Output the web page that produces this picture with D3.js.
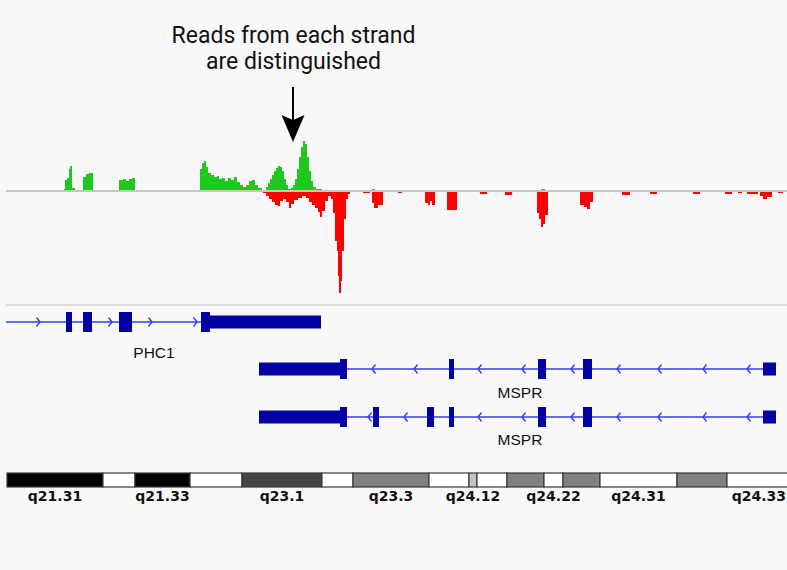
<!DOCTYPE html>
<html>
<head>
<meta charset="utf-8">
<script src="https://cdn.jsdelivr.net/npm/d3@7"></script>
<style>
  html, body { margin: 0; padding: 0; background: #f8f8f8; }
  svg { display: block; }
</style>
</head>
<body>
<script>
// ---------------- DATA ----------------
// Coverage positions (kb from view start) and read counts
const fwdPos = [42,58,59,61,63,64,66,69,77,80,83,87,113,117,120,123,126,129,
  194,196,198,200,202,205,208,211,213,216,219,222,225,228,231,234,237,240,243,246,249,252,256,
  260,262,264,266,268,270,272,274,276,278,280,282,285,287,289,291,293,295,297,299,301,303,305,307,310,316,324,366,369,535,539];
const fwdVal = [1,2,11,13,22,25,3,0,14,17,18,0,11,12,10,12,13,0,
  22,28,30,24,18,16,14,15,12,13,10,13,11,14,9,6,4,6,10,11,6,3,1,
  4,8,12,16,20,23,25,24,20,12,6,2,3,6,12,22,34,44,50,47,34,20,10,4,2,1,0,2,0,2,0];

const revPos = [257,260,263,266,269,272,274,277,280,283,285,288,292,296,300,303,306,309,312,314,316,319,322,325,327,329,331,332,333,335,336,338,340,342,344,350,
  357,364,366,368,372,377,392,396,419,422,424,426,429,441,451,474,481,499,506,
  531,533,535,537,539,542,574,578,581,584,587,616,624,644,651,687,694,719,726,732,736,741,752,754,757,761,766,772,777];
const revVal = [2,5,8,11,14,15,10,8,11,17,13,9,7,5,7,11,14,17,21,26,20,10,5,8,22,50,60,85,102,90,60,28,8,3,1,0,
  2,0,12,17,14,0,2,0,12,14,10,14,0,19,0,3,0,4,0,
  22,28,36,33,24,0,14,16,18,11,0,4,0,3,0,3,0,3,0,2,0,3,0,5,8,6,0,2,0];

// Gene models
const geneNames = ["PHC1", "MSPR", "MSPR"];
const geneStrand = ["+", "-", "-"];
const geneSpan = [[0, 315], [253, 770], [253, 770]];
// exons: [start, end, kind] kind: "cds" tall, "utr" short
const geneExons = [
  [[60,66,"cds"],[77,86,"cds"],[113,126,"cds"],[195,204,"cds"],[204,315,"utr"]],
  [[253,334,"utr"],[334,341,"cds"],[443,448,"cds"],[532,540,"cds"],[577,586,"cds"],[757,770,"utr"]],
  [[253,334,"utr"],[334,341,"cds"],[367,373,"cds"],[421,428,"cds"],[443,448,"cds"],[532,540,"cds"],[577,586,"cds"],[757,770,"utr"]]
];
const geneChevrons = [
  [34,106,146,191],
  [366,408,472,516,565,611,652,697,741],
  [362,398,472,516,565,611,652,697,741]
];
const geneLabelPos = [148, 514, 514];

// Cytoband ideogram (chr12 q-arm)
const bandNames = ["q21.31","q21.32","q21.33","q22","q23.1","q23.2","q23.3","q24.11","q24.12","q24.13","q24.21","q24.22","q24.23","q24.31","q24.32","q24.33"];
const bandStart = [1,97,129,184,236,316,347,423,463,471,501,538,557,594,671,721];
const bandEnd   = [97,129,184,236,316,347,423,463,471,501,538,557,594,671,721,800];
const bandStain = ["gpos100","gneg","gpos100","gneg","gpos75","gneg","gpos50","gneg","gpos25","gneg","gpos50","gneg","gpos50","gneg","gpos50","gneg"];
const bandLabels = ["q21.31","q21.33","q23.1","q23.3","q24.12","q24.22","q24.31","q24.33"];

const titleLines = ["Reads from each strand", "are distinguished"];
const arrowPos = 287; // genomic position pointed at

// ---------------- DRAWING ----------------
const W = 787, H = 570;
const svg = d3.select("body").append("svg").attr("width", W).attr("height", H);
svg.append("rect").attr("width", W).attr("height", H).attr("fill", "#f8f8f8");

const x = d3.scaleLinear().domain([0, 781]).range([6, 787]);
const y = d3.scaleLinear().domain([-114, 61]).range([305, 130]);

// coverage
const fwd = fwdPos.map((p, i) => ({p, v: fwdVal[i]}));
const rev = revPos.map((p, i) => ({p, v: -revVal[i]}));
const area = d3.area().curve(d3.curveStepAfter)
  .x(d => x(d.p)).y0(y(0)).y1(d => y(d.v));
svg.append("path").datum(fwd).attr("d", area).attr("fill", "#1ec81e");
svg.append("path").datum(rev).attr("d", area).attr("fill", "#ff0000");

// baseline
svg.append("line").attr("x1", x(0)).attr("x2", W).attr("y1", y(0)).attr("y2", y(0))
  .attr("stroke", "#c6c6c6").attr("stroke-width", 2);
// track separator
svg.append("line").attr("x1", x(0)).attr("x2", W).attr("y1", 305).attr("y2", 305)
  .attr("stroke", "#dcdcdc").attr("stroke-width", 2);

// title
const title = svg.append("g").attr("font-family", "Roboto, 'Liberation Sans', sans-serif")
  .attr("fill", "#111").attr("text-anchor", "middle");
const t1 = title.append("text").attr("x", 293.5).attr("y", 43).text(titleLines[0]).attr("font-size", 22);
let w1 = t1.node().getComputedTextLength();
const fs = 22 * 244 / w1;
t1.attr("font-size", fs);
title.append("text").attr("x", 293.5).attr("y", 69).attr("font-size", fs).text(titleLines[1]);

// arrow
const ax = x(arrowPos);
svg.append("line").attr("x1", ax).attr("x2", ax).attr("y1", 87).attr("y2", 122)
  .attr("stroke", "#000").attr("stroke-width", 2);
svg.append("path")
  .attr("d", `M${ax-11.5},115 L${ax},120 L${ax+11.5},115 L${ax},142 Z`)
  .attr("fill", "#000");

// genes
const trackY = [322, 369, 417];
const labelY = [358, 398, 445];
const exonFill = "#0202a4", intronCol = "#3a3af2";
geneNames.forEach((name, gi) => {
  const g = svg.append("g");
  const cy = trackY[gi];
  g.append("line").attr("x1", x(geneSpan[gi][0])).attr("x2", x(geneSpan[gi][1]))
    .attr("y1", cy).attr("y2", cy).attr("stroke", intronCol).attr("stroke-width", 1.4);
  const dir = geneStrand[gi] === "+" ? 1 : -1;
  g.selectAll("path.chev").data(geneChevrons[gi]).join("path")
    .attr("d", p => { const cx = x(p); return `M${cx - dir*3.5},${cy-4.5} L${cx},${cy} L${cx - dir*3.5},${cy+4.5}`; })
    .attr("fill", "none").attr("stroke", intronCol).attr("stroke-width", 1.4);
  g.selectAll("rect").data(geneExons[gi]).join("rect")
    .attr("x", d => x(d[0])).attr("width", d => x(d[1]) - x(d[0]))
    .attr("y", d => d[2] === "cds" ? cy - 10 : cy - 6.5)
    .attr("height", d => d[2] === "cds" ? 20 : 13)
    .attr("fill", exonFill);
  g.append("text").attr("x", x(geneLabelPos[gi])).attr("y", labelY[gi])
    .attr("text-anchor", "middle").attr("font-family", "'Liberation Sans', Arial, sans-serif")
    .attr("font-size", 15.5).attr("fill", "#111").text(name);
});

// ideogram
const stainColor = {gpos100: "#000000", gneg: "#ffffff", gpos75: "#444444", gpos50: "#808080", gpos25: "#c4c4c4"};
const bands = bandNames.map((n, i) => ({n, s: bandStart[i], e: bandEnd[i], st: bandStain[i]}));
const ide = svg.append("g");
ide.selectAll("rect").data(bands).join("rect")
  .attr("x", d => x(d.s)).attr("width", d => x(d.e) - x(d.s))
  .attr("y", 473).attr("height", 14)
  .attr("fill", d => stainColor[d.st]).attr("stroke", "#3a3a3a").attr("stroke-width", 1.2);
ide.selectAll("text").data(bands.filter(b => bandLabels.includes(b.n))).join("text")
  .attr("y", 501)
  .attr("text-anchor", "middle").attr("font-family", "'DejaVu Sans', sans-serif")
  .attr("font-weight", "bold").attr("font-size", 14).attr("fill", "#111")
  .text(d => d.n)
  .attr("x", function(d) {
    const cx = x((d.s + d.e) / 2);
    const half = this.getComputedTextLength() / 2;
    return Math.min(cx, W - 1 - half);
  });
</script>
</body>
</html>
